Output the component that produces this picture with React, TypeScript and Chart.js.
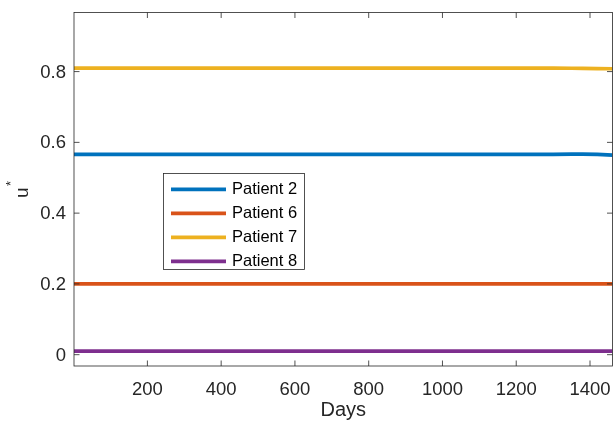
import React, { useEffect, useRef } from "react";
import { Chart, registerables } from "chart.js";

Chart.register(...registerables);

const days = [1, 200, 400, 600, 800, 1000, 1200, 1300, 1350, 1380, 1420, 1461];
const patient2 = [0.566, 0.566, 0.566, 0.566, 0.566, 0.566, 0.566, 0.566, 0.5665, 0.567, 0.566, 0.564];
const patient6 = [0.2, 0.2, 0.2, 0.2, 0.2, 0.2, 0.2, 0.2, 0.2, 0.2, 0.2, 0.2];
const patient7 = [0.81, 0.81, 0.81, 0.81, 0.81, 0.81, 0.81, 0.81, 0.8095, 0.809, 0.8085, 0.808];
const patient8 = [0.01, 0.01, 0.01, 0.01, 0.01, 0.01, 0.01, 0.01, 0.01, 0.01, 0.01, 0.01];
const seriesNames = ["Patient 2", "Patient 6", "Patient 7", "Patient 8"];
const seriesColors = ["#0072BD", "#D95319", "#EDB120", "#7E2F8E"];
const xTicks = [200, 400, 600, 800, 1000, 1200, 1400];
const yTicks = [0, 0.2, 0.4, 0.6, 0.8];
const xLabel = "Days";
const yLabel = "u";
const yLabelSup = "*";

const FONT = "'Liberation Sans', Arial, Helvetica, sans-serif";
const AX = "#262626";

const zeroPad = (s: any) => {
  s.paddingTop = 0;
  s.paddingBottom = 0;
  s.paddingLeft = 0;
  s.paddingRight = 0;
};

const decorPlugin = {
  id: "matlabDecor",
  afterDatasetsDraw(chart: any) {
    const ctx = chart.ctx;
    const ca = chart.chartArea;
    const xs = chart.scales.x;
    const ys = chart.scales.y;
    ctx.save();
    // box
    ctx.strokeStyle = AX;
    ctx.lineWidth = 0.8;
    ctx.strokeRect(ca.left, ca.top, ca.right - ca.left, ca.bottom - ca.top);
    const tl = 5.5;
    ctx.beginPath();
    xTicks.forEach((t) => {
      const px = xs.getPixelForValue(t);
      ctx.moveTo(px, ca.bottom);
      ctx.lineTo(px, ca.bottom - tl);
      ctx.moveTo(px, ca.top);
      ctx.lineTo(px, ca.top + tl);
    });
    yTicks.forEach((t) => {
      const py = ys.getPixelForValue(t);
      ctx.moveTo(ca.left, py);
      ctx.lineTo(ca.left + tl, py);
      ctx.moveTo(ca.right, py);
      ctx.lineTo(ca.right - tl, py);
    });
    ctx.stroke();

    // legend
    const lx = 163.5, ly = 173.5, lw = 141, lh = 96;
    ctx.fillStyle = "#ffffff";
    ctx.fillRect(lx, ly, lw, lh);
    ctx.strokeStyle = AX;
    ctx.lineWidth = 0.8;
    ctx.strokeRect(lx, ly, lw, lh);
    ctx.font = `16.5px ${FONT}`;
    ctx.textBaseline = "middle";
    ctx.textAlign = "left";
    seriesNames.forEach((name, i) => {
      const ry = ly + 15.8 + i * 24;
      ctx.strokeStyle = seriesColors[i];
      ctx.lineWidth = 3.7;
      ctx.beginPath();
      ctx.moveTo(lx + 7.5, ry);
      ctx.lineTo(lx + 62.5, ry);
      ctx.stroke();
      ctx.fillStyle = "#000000";
      ctx.fillText(name, lx + 68.5, ry + 0.5);
    });

    // y label with superscript
    ctx.translate(28, 198);
    ctx.rotate(-Math.PI / 2);
    ctx.fillStyle = AX;
    ctx.textBaseline = "alphabetic";
    ctx.font = `19px ${FONT}`;
    ctx.fillText(yLabel, 0, 0);
    const w = ctx.measureText(yLabel).width;
    ctx.font = `13px ${FONT}`;
    ctx.fillText(yLabelSup, w + 1.5, -13);
    ctx.restore();
  },
};

export default function App() {
  const ref = useRef<HTMLCanvasElement | null>(null);
  useEffect(() => {
    if (!ref.current) return;
    const mk = (vals: number[]) => days.map((d, i) => ({ x: d, y: vals[i] }));
    const all = [patient2, patient6, patient7, patient8];
    const chart = new Chart(ref.current, {
      type: "line",
      data: {
        datasets: all.map((vals, i) => ({
          label: seriesNames[i],
          data: mk(vals),
          borderColor: seriesColors[i],
          backgroundColor: seriesColors[i],
          borderWidth: 3.7,
          pointRadius: 0,
          tension: 0,
          fill: false,
        })),
      },
      options: {
        animation: false,
        responsive: true,
        maintainAspectRatio: false,
        layout: { padding: { left: 0, top: 12.5, right: 1.5, bottom: 0 } },
        plugins: { legend: { display: false }, tooltip: { enabled: false } },
        scales: {
          x: {
            type: "linear",
            min: 1,
            max: 1461,
            grid: { display: false, drawTicks: false },
            border: { display: false },
            afterBuildTicks: (s: any) => {
              s.ticks = xTicks.map((v) => ({ value: v }));
            },
            afterFit: (s: any) => {
              s.height = 56;
              zeroPad(s);
            },
            ticks: {
              autoSkip: false,
              maxRotation: 0,
              padding: 13,
              color: AX,
              font: { family: FONT, size: 18.5 },
              callback: (v: any) => String(v),
            },
            title: {
              display: true,
              text: xLabel,
              color: AX,
              font: { family: FONT, size: 20 },
              padding: { top: 0, bottom: 0 },
            },
          },
          y: {
            type: "linear",
            min: -0.032,
            max: 0.967,
            grid: { display: false, drawTicks: false },
            border: { display: false },
            afterBuildTicks: (s: any) => {
              s.ticks = yTicks.map((v) => ({ value: v }));
            },
            afterFit: (s: any) => {
              s.width = 74;
              zeroPad(s);
            },
            ticks: {
              autoSkip: false,
              padding: 8,
              labelOffset: 1,
              color: AX,
              font: { family: FONT, size: 18.5 },
              callback: (v: any) => (v === 0 ? "0" : Number(v).toFixed(1)),
            },
          },
        },
      },
      plugins: [decorPlugin],
    } as any);
    return () => chart.destroy();
  }, []);
  return (
    <div style={{ position: "fixed", left: 0, top: 0, width: 614, height: 422, background: "#fff" }}>
      <canvas ref={ref} />
    </div>
  );
}
